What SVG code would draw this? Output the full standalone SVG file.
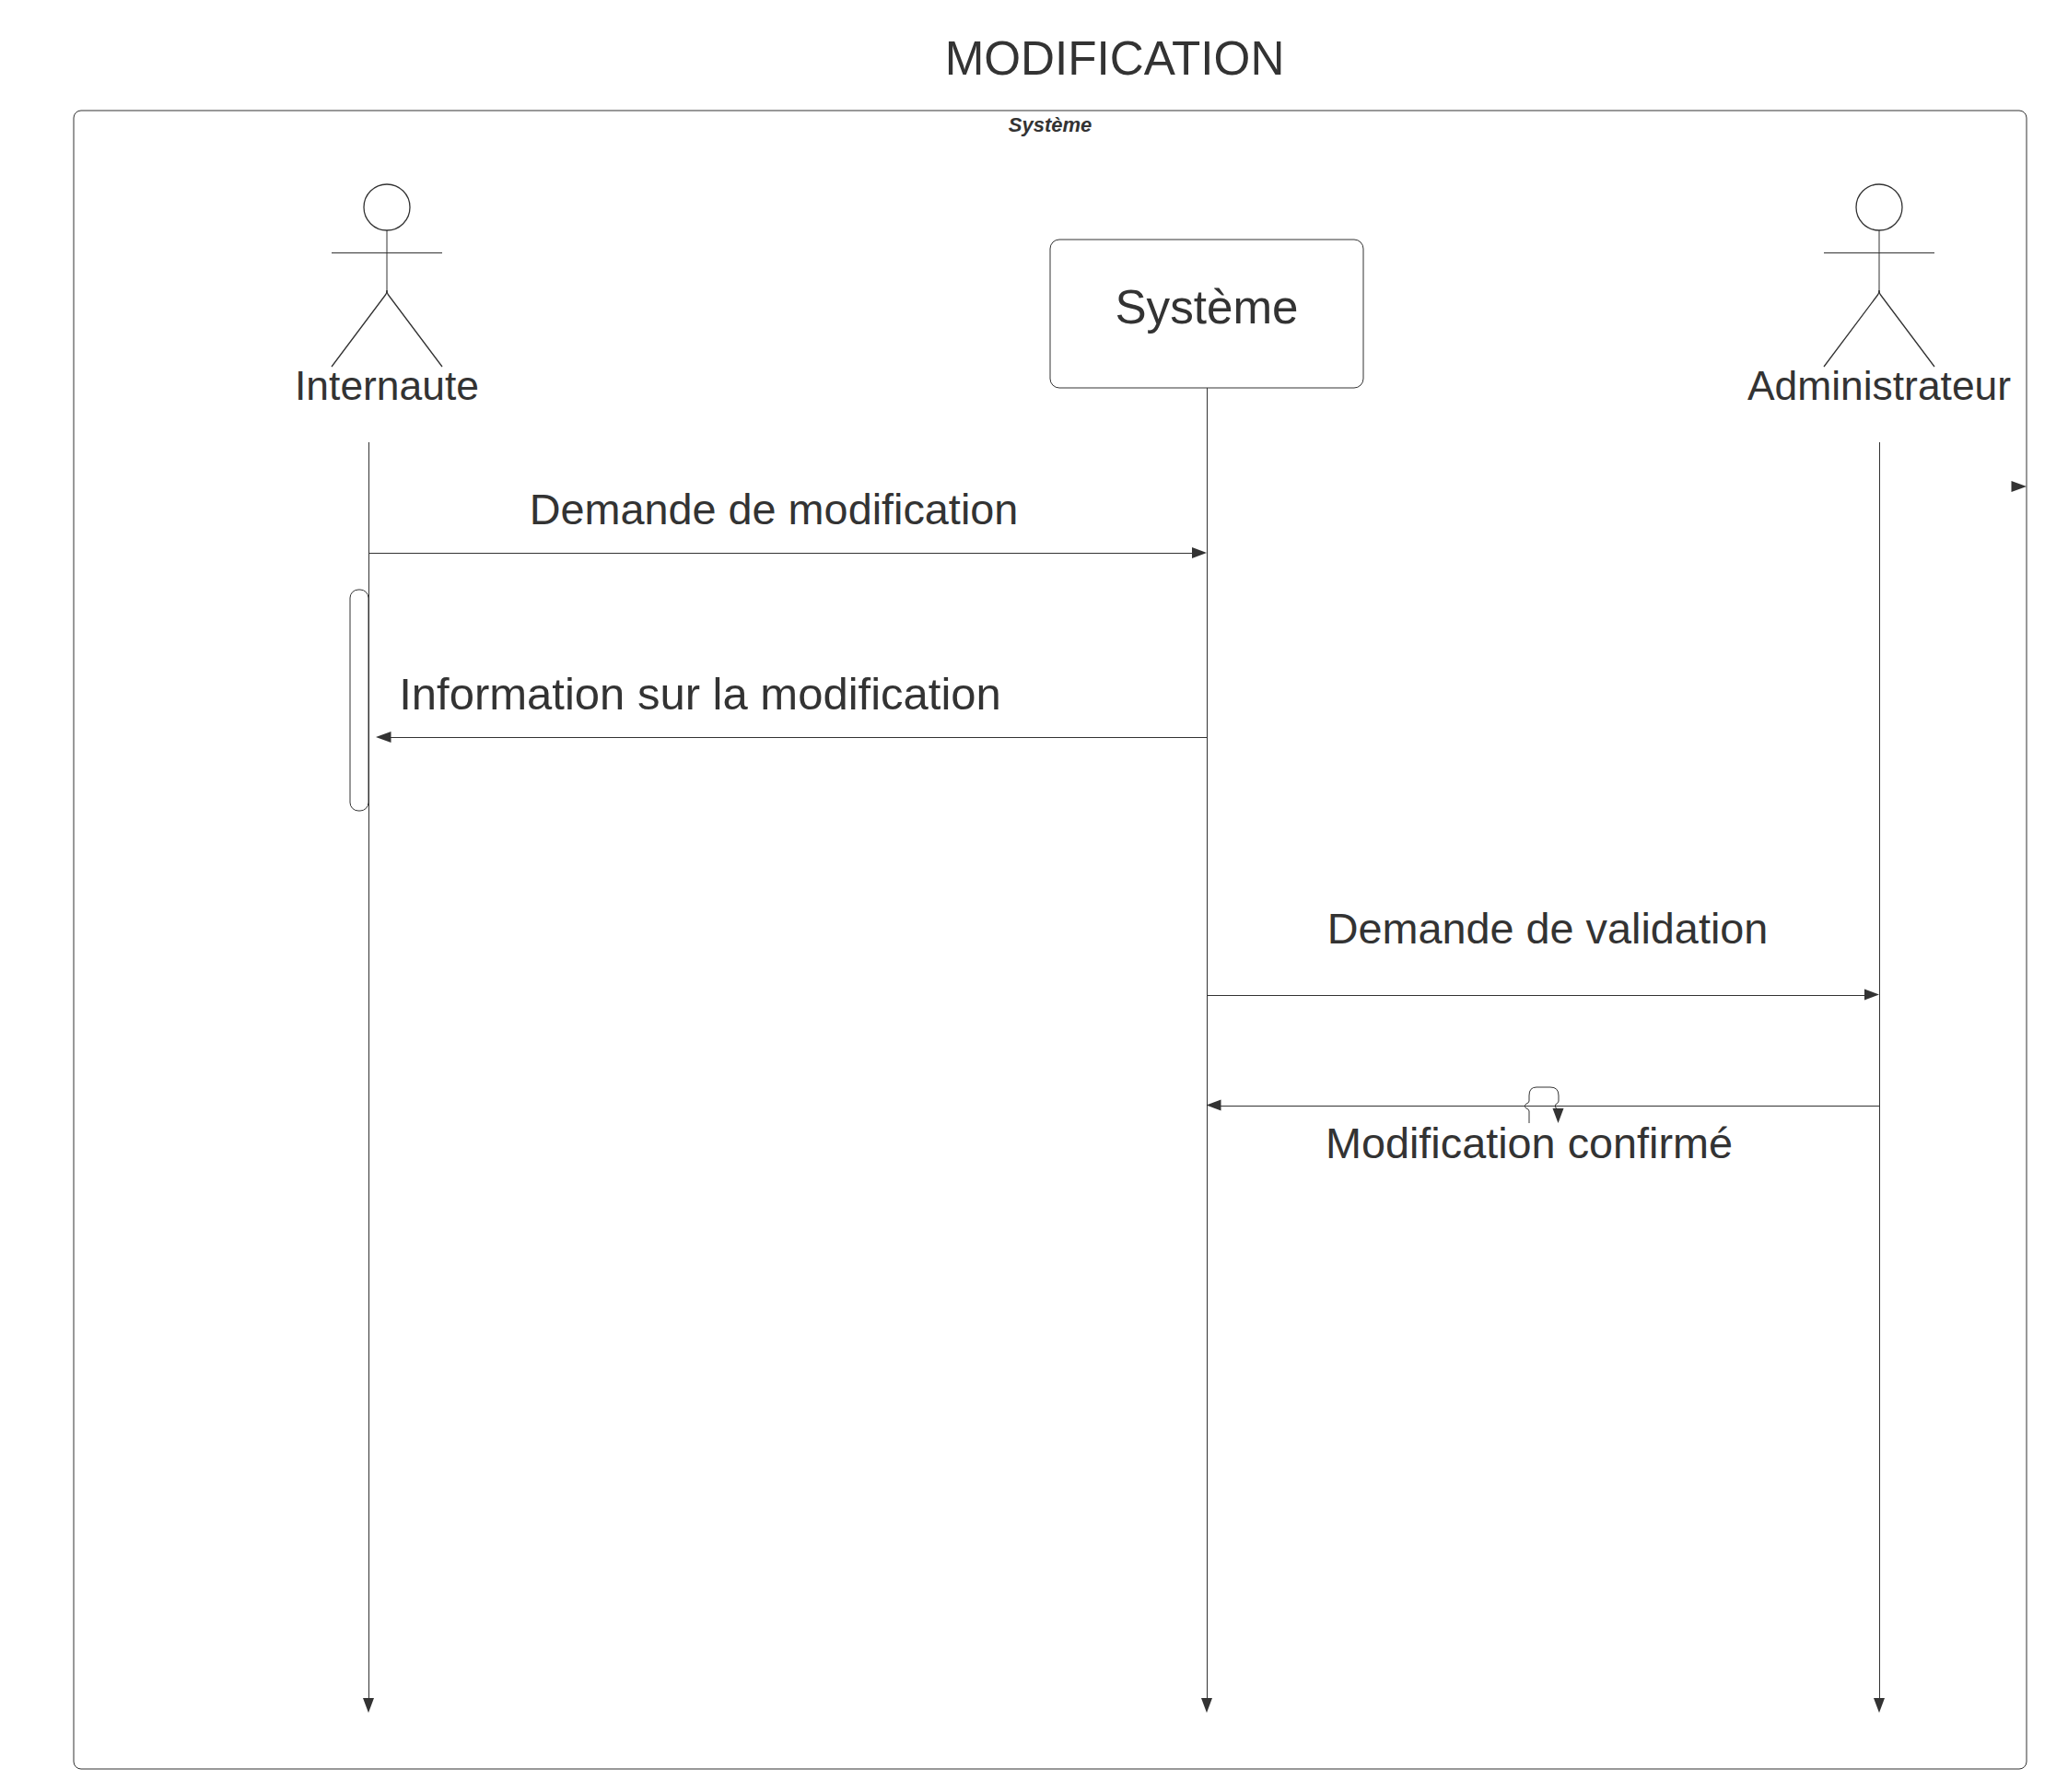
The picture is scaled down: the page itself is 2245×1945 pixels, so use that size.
<svg xmlns="http://www.w3.org/2000/svg" width="2245" height="1945" viewBox="0 0 2245 1945">
<style>
text{font-family:"Liberation Sans",Arial,sans-serif;fill:#333;text-anchor:middle}
.s{fill:none;stroke:#333;stroke-width:1}
.t{fill:none;stroke:#333;stroke-width:1.300}
.a{fill:#333;stroke:none}
.m{font-size:46.8px}
</style>
<defs>
<g id="actor">
<circle class="t" cx="0" cy="225" r="25"/>
<path class="s" d="M0 250V317M-60 274.500H60"/>
<path class="t" d="M-60 398L-1.500 320Q0 318 0 315M60 398L1.500 320Q0 318 0 315"/>
</g>
</defs>
<rect width="2245" height="1945" fill="#fff"/>
<text id="title" x="1210" y="81" font-size="51.2">MODIFICATION</text>
<g id="frame">
<rect class="s" x="80" y="120" width="2120" height="1800" rx="8"/>
<text x="1140" y="143" font-size="22" font-weight="bold" font-style="italic">Système</text>
</g>
<g id="internaute">
<use href="#actor" x="420"/>
<text x="420" y="433.500" font-size="44.400">Internaute</text>
</g>
<g id="systeme">
<rect class="s" x="1140" y="260" width="340" height="161" rx="10"/>
<text x="1310" y="350.500" font-size="51.200">Système</text>
</g>
<g id="administrateur">
<use href="#actor" x="2040"/>
<text x="2040" y="433.500" font-size="44.400">Administrateur</text>
</g>
<g id="activation">
<rect class="s" x="380" y="640" width="20" height="240" rx="9"/>
</g>
<g id="connectors">
<path class="s" d="M400.500 480V1845"/>
<path class="a" d="M394 1843H406L400 1859Z"/>
<path class="s" d="M1310.500 421V1845"/>
<path class="a" d="M1304 1843H1316L1310 1859Z"/>
<path class="s" d="M2040.500 480V1845"/>
<path class="a" d="M2034 1843H2046L2040 1859Z"/>
<path class="s" d="M400 600.500H1295"/>
<path class="a" d="M1294 594L1310 600L1294 606Z"/>
<path class="s" d="M1310 800.500H422"/>
<path class="a" d="M424.500 794L408 800L424.500 806Z"/>
<path class="s" d="M1310 1080.500H2025"/>
<path class="a" d="M2024 1073.500L2040 1079.500L2024 1085.500Z"/>
<path class="s" d="M2040 1200.500H1324"/>
<path class="a" d="M1325.500 1193.500L1309.500 1199.500L1325.500 1205.500Z"/>
<path class="a" d="M2183.500 522L2200 528L2183.500 534Z"/>
<path class="s" d="M1660 1219V1206Q1660 1204 1657 1203Q1653.500 1200.500 1657 1198Q1660 1197 1660 1195V1189Q1660 1180 1668 1180H1683Q1692 1180 1692 1189V1195Q1692 1197 1689.500 1198Q1686.500 1200.500 1689.500 1203Q1692 1204 1692 1205"/>
<path class="a" d="M1685.500 1203H1697.500L1691.500 1219Z"/>
</g>
<g id="labels">
<text class="m" x="840" y="569">Demande de modification</text>
<text class="m" x="760" y="769.500" style="font-size:49px">Information sur la modification</text>
<text class="m" x="1680" y="1024">Demande de validation</text>
<text class="m" x="1660" y="1257">Modification confirmé</text>
</g>
</svg>
